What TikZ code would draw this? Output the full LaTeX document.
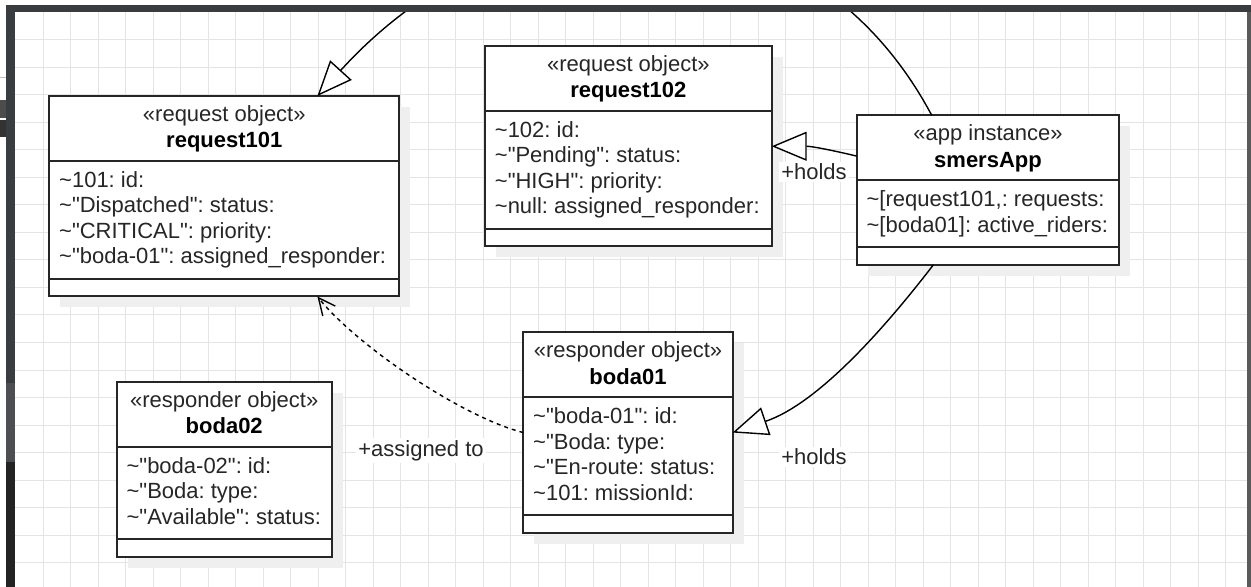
\documentclass[tikz,border=0pt]{standalone}
\usepackage{fontspec}
\setmainfont{Liberation Sans}[Ligatures=TeXOff]
\usetikzlibrary{calc,arrows.meta}
\frenchspacing

\definecolor{gridgray}{HTML}{E4E4E4}
\definecolor{framedark}{HTML}{3A3D40}
\definecolor{framemid}{HTML}{4C4E51}
\definecolor{framedeep}{HTML}{232323}
\definecolor{frameright}{HTML}{5A5A5A}
\definecolor{inkgray}{HTML}{262626}
\definecolor{shadowgray}{HTML}{EFEFEF}

\tikzset{
  gridline/.style={draw=gridgray, line width=0.5pt},
  objbox/.style={draw=inkgray, line width=1pt, fill=white, inner sep=0pt, outer sep=0pt, anchor=north west},
  objline/.style={draw=inkgray, line width=1pt},
  objshadow/.style={fill=shadowgray},
  stereotext/.style={anchor=base, inner sep=0pt, text=inkgray, font=\fontsize{11}{12.75}\selectfont},
  titletext/.style={anchor=base, inner sep=0pt, text=black, font=\fontsize{11}{12.75}\selectfont\bfseries},
  attrtext/.style={anchor=base west, inner sep=0pt, text=inkgray, font=\fontsize{11}{12.75}\selectfont},
  link/.style={draw=black, line width=0.7pt},
  holdsarrow/.style={-{Triangle[length=17.5pt, width=14.5pt, fill=white]}},
  usesarrow/.style={dash pattern=on 2pt off 2pt, -{Straight Barb[length=8.5pt, width=8pt]}},
  linklabel/.style={fill=white, inner sep=1pt, text=inkgray, font=\fontsize{11}{12.75}\selectfont},
}

% #1 name, #2 left, #3 top, #4 width, #5 number of attributes,
% #6 stereotype, #7 title, #8 attributes
\newcommand{\umlobj}[8]{%
  \pgfmathsetmacro{\objh}{98.5+25.5*#5}%
  \pgfmathsetmacro{\objwpt}{#4*0.5}%
  \pgfmathsetmacro{\objhpt}{\objh*0.5}%
  \fill[objshadow] (#2+11,#3+11) rectangle ++(#4,\objh);
  \node[objbox, minimum width=\objwpt pt, minimum height=\objhpt pt] (#1) at (#2,#3) {};
  \draw[objline] ($(#1.north west)+(0,65)$) -- ($(#1.north east)+(0,65)$);
  \draw[objline] ($(#1.south west)+(0,-17.5)$) -- ($(#1.south east)+(0,-17.5)$);
  \node[stereotext] (#1-st) at ($(#1.north)+(0,25.5)$) {«#6»};
  \node[titletext] (#1-ti) at ($(#1.north)+(0,52)$) {#7};
  \foreach \attr [count=\k] in {#8}
    \node[attrtext] (#1-a\k) at ($(#1.north west)+(9.5,65+26.5+25.5*\k-25.5)$) {\textasciitilde\attr};
}

\begin{document}
\begin{tikzpicture}[x=0.5pt, y=-0.5pt]
		%%%%% START %%%%%
		\useasboundingbox (0,0) rectangle (1251,587);
		\fill[white] (0,0) rectangle (1251,587);
		
		% canvas grid
		\foreach \gx in {1,...,44}
			\draw[gridline] (15.8+27.5*\gx,12) -- (15.8+27.5*\gx,587);
		\foreach \gy in {1,...,20}
			\draw[gridline] (15,12.5+27.5*\gy) -- (1247,12.5+27.5*\gy);
		
		% objects
		\umlobj{req101}{49.3}{96}{350}{4}{request object}{request101}{{101: id:},{"Dispatched": status:},{"CRITICAL": priority:},{"boda-01": assigned\_responder:}}
		\umlobj{req102}{485}{46}{286.7}{4}{request object}{request102}{{102: id:},{"Pending": status:},{"HIGH": priority:},{null: assigned\_responder:}}
		\umlobj{smers}{856.7}{115.3}{262.6}{2}{app instance}{smersApp}{{[request101,: requests:},{[boda01]: active\_riders:}}
		\umlobj{boda02}{116.7}{381.7}{215}{3}{responder object}{boda02}{{"boda-02": id:},{"Boda: type:},{"Available": status:}}
		\umlobj{boda01}{523.3}{332.3}{209.4}{4}{responder object}{boda01}{{"boda-01": id:},{"Boda: type:},{"En-route: status:},{101: missionId:}}
		
		\coordinate (smersTop) at ($(smers.north west)!0.2856!(smers.north east)$);
		\coordinate (smersBot) at ($(smers.south west)!0.292!(smers.south east)$);
		\coordinate (smersLeft) at ($(smers.north west)!0.273!(smers.south west)$);
		\coordinate (req101Top) at ($(req101.north west)!0.766!(req101.north east)$);
		\coordinate (req101Bot) at ($(req101.south west)!0.766!(req101.south east)$);
		
		% links
		\draw[link, holdsarrow] (smersTop) .. controls ($(smersTop)+(-125,-235)$) and ($(req101Top)+(200,-220)$) .. (req101Top);
		\draw[link, holdsarrow] (smersLeft) .. controls ($(smersLeft)+(-25,-6)$) and ($(req102.east)+(40,0)$) .. (req102.east);
		\draw[link, holdsarrow] (smersBot) .. controls ($(smersBot)+(-50,65)$) and ($(boda01.east)+(85,-29)$) .. (boda01.east);
		\draw[link, usesarrow] (boda01.west) .. controls ($(boda01.west)+(-60,-15)$) and ($(req101Bot)+(40,50)$) .. (req101Bot);
		
		\node[linklabel] (holdsReq) at (814,172) {+holds};
		\node[linklabel] (holdsBoda) at (814,456.7) {+holds};
		\node[linklabel] (assignedTo) at (421,450.5) {+assigned to};
		
		% window frame
		\fill[white] (0,0) rectangle (1251,5);
		\fill[framedark] (6,5) rectangle (1251,12);
		\fill[framedark] (6,5) rectangle (15,383);
		\fill[framemid] (6,383) rectangle (15,462);
		\fill[framedeep] (6,462) rectangle (15,587);
		\fill[frameright] (1246.7,12) rectangle (1251,587);
		\fill[white] (0,5) rectangle (6,587);
		\fill[black!25] (0,77) rectangle (6,78);
		\fill[black!70] (0,100) rectangle (6,118);
		\fill[black!80] (0,120) rectangle (6,137);
		
		%%%%% END %%%%%
	\end{tikzpicture}
\end{document}
